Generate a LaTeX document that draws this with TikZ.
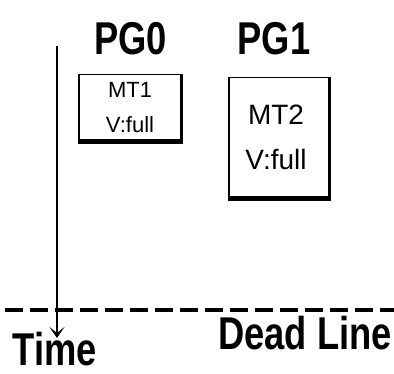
\documentclass[tikz,border=0pt]{standalone}
\usepackage{fontspec}
\setmainfont{Liberation Sans}
\usetikzlibrary{arrows.meta}
\begin{document}
\begin{tikzpicture}[x=1pt,y=-1pt,
  bigtext/.style={anchor=base,inner sep=0pt,font=\fontsize{46}{50}\selectfont\bfseries},
  mtbox/.style={draw,line width=1.5pt,align=center,inner sep=0pt},
  thickedge/.style={line width=5pt},
  sideedge/.style={line width=2.5pt},
  timeline/.style={line width=2.5pt,-{Stealth[length=11pt,width=15pt,inset=6pt]}},
  deadline/.style={line width=4.5pt,dash pattern=on 18pt off 7pt}]
\useasboundingbox (0,0) rectangle (394,374);
% headings
\node[bigtext] (pg0) at (130.5,55) {\scalebox{0.79}[1]{PG0}};
\node[bigtext] (pg1) at (274,55) {\scalebox{0.79}[1]{PG1}};
% boxes
\node[mtbox,minimum width=102pt,minimum height=66pt,
      font=\fontsize{22}{35}\selectfont] (mt1) at (130,107.5) {MT1\\V:full};
\node[mtbox,minimum width=100pt,minimum height=120pt,
      font=\fontsize{28}{45}\selectfont] (mt2) at (279,137.5) {\hspace*{-6pt}MT2\\\hspace*{-6pt}V:full};
\draw[thickedge] ([xshift=-0.75pt]mt1.south west) -- ([xshift=1.25pt]mt1.south east);
\draw[sideedge] (mt1.north east) -- (mt1.south east);
\draw[thickedge] ([xshift=-0.75pt]mt2.south west) -- ([xshift=1.25pt]mt2.south east);
\draw[sideedge] (mt2.north east) -- (mt2.south east);
% dead line
\coordinate (dl1) at (5,310);
\coordinate (dl2) at (394,310);
\draw[deadline] (dl1) -- (dl2);
\node[bigtext] (dead) at (305,350) {\scalebox{0.79}[1]{Dead Line}};
% time arrow
\coordinate (t1) at (57,46);
\coordinate (t2) at (57,338);
\draw[timeline] (t1) -- (t2);
\node[bigtext] (time) at (55,366) {\scalebox{0.79}[1]{Time}};
\end{tikzpicture}
\end{document}
